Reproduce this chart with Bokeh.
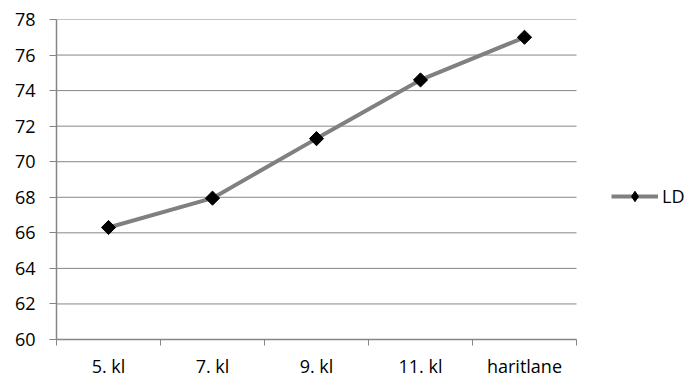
import math
from bokeh.plotting import figure
from bokeh.models import FixedTicker, Legend, LegendItem, Range1d
from bokeh.embed import file_html
from bokeh.resources import INLINE

categories = ["5. kl", "7. kl", "9. kl", "11. kl", "haritlane"]
ld_values = [66.3, 67.95, 71.3, 74.6, 77.0]
y_ticks = [60, 62, 64, 66, 68, 70, 72, 74, 76, 78]

xs = list(range(1, len(categories) + 1))
FONT = "Open Sans"
FS = "18px"
GRAY = "#868686"
x_lo, x_hi = 0.5, len(categories) + 0.5
# frame spans to the right edge; the extra room holds the legend
x_extra = 109 / 104

p = figure(width=685, height=380, output_backend="svg", toolbar_location=None,
           x_range=Range1d(x_lo, x_hi + x_extra), y_range=Range1d(60, 78),
           min_border_left=56, min_border_right=0, min_border_top=19, min_border_bottom=40)
p.outline_line_color = None
p.background_fill_color = "white"
p.border_fill_color = "white"

# horizontal gridlines limited to the plot area
p.ygrid.grid_line_color = None
p.xgrid.grid_line_color = None
p.segment(x0=[x_lo] * len(y_ticks), x1=[x_hi] * len(y_ticks), y0=y_ticks, y1=y_ticks,
          line_color=GRAY, line_width=1)

# x axis
p.xaxis.bounds = (x_lo, x_hi)
p.xaxis.ticker = FixedTicker(ticks=xs, minor_ticks=[x - 0.5 for x in xs] + [xs[-1] + 0.5])
p.xaxis.major_label_overrides = {x: c for x, c in zip(xs, categories)}
p.xaxis.major_tick_out = 0
p.xaxis.major_tick_in = 0
p.xaxis.minor_tick_out = 6
p.xaxis.minor_tick_in = 0
p.xaxis.minor_tick_line_color = GRAY
p.xaxis.axis_line_color = GRAY
p.xaxis.axis_line_width = 1.5
p.xaxis.major_label_standoff = 8
p.xaxis.major_label_text_font = FONT
p.xaxis.major_label_text_font_size = FS
p.xaxis.major_label_text_color = "black"

# y axis
p.yaxis.ticker = FixedTicker(ticks=y_ticks)
p.yaxis.minor_tick_line_color = None
p.yaxis.major_tick_out = 7
p.yaxis.major_tick_in = 0
p.yaxis.major_tick_line_color = GRAY
p.yaxis.axis_line_color = GRAY
p.yaxis.axis_line_width = 1.5
p.yaxis.major_label_standoff = 14
p.yaxis.major_label_text_font = FONT
p.yaxis.major_label_text_font_size = FS
p.yaxis.major_label_text_color = "black"

line = p.line(xs, ld_values, line_color="#808080", line_width=4)
marks = p.scatter(xs, ld_values, marker="square", angle=math.pi / 4, size=10,
                  fill_color="black", line_color="black")
# legend-only diamond glyph (a single non-drawn point)
legend_mark = p.scatter(x=[float("nan")], y=[float("nan")], marker="diamond", size=12,
                        fill_color="black", line_color="black")

legend = Legend(items=[LegendItem(label="LD", renderers=[line, legend_mark])],
                location=(555, 130), glyph_width=47, glyph_height=26, padding=0, margin=0,
                label_standoff=4, border_line_color=None, background_fill_alpha=0,
                label_text_font=FONT, label_text_font_size=FS, label_text_color="black")
p.add_layout(legend, "center")

open("out.html", "w").write(file_html(p, INLINE))
